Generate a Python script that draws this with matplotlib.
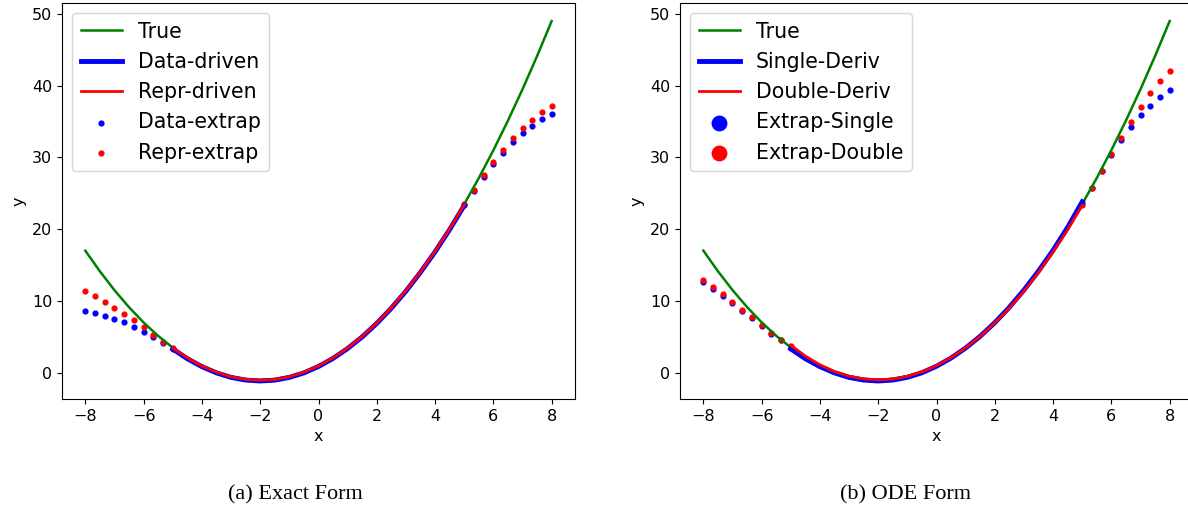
import matplotlib
matplotlib.use("Agg")
import matplotlib.pyplot as plt

# curva verdadeira (passo 0.5)
x_true = [-8, -7.5, -7, -6.5, -6, -5.5, -5, -4.5, -4, -3.5, -3, -2.5, -2, -1.5, -1, -0.5,
          0, 0.5, 1, 1.5, 2, 2.5, 3, 3.5, 4, 4.5, 5, 5.5, 6, 6.5, 7, 7.5, 8]
y_true = [17, 14.125, 11.5, 9.125, 7, 5.125, 3.5, 2.125, 1, 0.125, -0.5, -0.875, -1, -0.875, -0.5, 0.125,
          1, 2.125, 3.5, 5.125, 7, 9.125, 11.5, 14.125, 17, 20.125, 23.5, 27.125, 31, 35.125, 39.5, 44.125, 49]

# ajustes no intervalo de treino [-5, 5]
x_fit = [-5, -4.5, -4, -3.5, -3, -2.5, -2, -1.5, -1, -0.5, 0, 0.5, 1, 1.5, 2, 2.5, 3, 3.5, 4, 4.5, 5]
y_data_driven = [3.3, 1.95, 0.85, -0.02, -0.65, -1.02, -1.15, -1.03, -0.65, -0.02, 0.87,
                 2.0, 3.38, 5.0, 6.88, 9.0, 11.37, 14.0, 16.85, 19.95, 23.3]
y_repr_driven = [3.45, 2.07, 0.95, 0.08, -0.55, -0.92, -1.05, -0.93, -0.55, 0.08, 0.96,
                 2.08, 3.46, 5.08, 6.95, 9.08, 11.45, 14.07, 16.93, 20.05, 23.4]
y_single_deriv = [3.3, 1.93, 0.82, -0.05, -0.68, -1.05, -1.18, -1.05, -0.67, -0.03, 0.88,
                  2.02, 3.42, 5.06, 6.95, 9.1, 11.5, 14.15, 17.05, 20.25, 23.8]
y_double_deriv = [3.8, 2.3, 1.08, 0.15, -0.5, -0.88, -1.02, -0.9, -0.52, 0.1, 0.98,
                  2.08, 3.45, 5.05, 6.9, 9.0, 11.35, 13.95, 16.8, 19.9, 23.3]

# pontos de extrapolacao
x_ext_left = [-8, -7.67, -7.33, -7, -6.67, -6.33, -6, -5.67, -5.33, -5]
x_ext_right = [5, 5.33, 5.67, 6, 6.33, 6.67, 7, 7.33, 7.67, 8]

data_ext_left = [8.56, 8.33, 7.96, 7.54, 7.08, 6.42, 5.73, 4.93, 4.15, 3.35]
repr_ext_left = [11.35, 10.66, 9.92, 9.08, 8.24, 7.30, 6.38, 5.31, 4.3, 3.45]
data_ext_right = [23.4, 25.32, 27.28, 29.05, 30.63, 32.08, 33.34, 34.40, 35.30, 35.99]
repr_ext_right = [23.5, 25.4, 27.51, 29.37, 31.10, 32.64, 34.04, 35.24, 36.27, 37.19]

single_ext_left = [12.61, 11.63, 10.66, 9.68, 8.62, 7.54, 6.52, 5.40, 4.47, 3.4]
double_ext_left = [12.89, 11.87, 10.89, 9.82, 8.76, 7.68, 6.61, 5.54, 4.57, 3.7]
single_ext_right = [23.7, 25.66, 28.03, 30.35, 32.36, 34.22, 35.85, 37.19, 38.37, 39.34]
double_ext_right = [23.4, 25.74, 28.07, 30.45, 32.72, 34.96, 37.05, 38.92, 40.60, 42.08]

plt.rcParams['font.size'] = 11.5

fig = plt.figure(figsize=(11.88, 5.14), dpi=100)
ax1 = fig.add_axes([0.0522, 0.2237, 0.4318, 0.7704])
ax2 = fig.add_axes([0.5724, 0.2237, 0.4318, 0.7704])


def desenha(ax, y_a, y_b, ext_a, ext_b, nomes, markerscale):
    # pontos primeiro, para as linhas ficarem por cima
    ax.scatter(x_ext_left + x_ext_right, ext_a[0] + ext_a[1], s=12, color='blue',
               label=nomes[2], zorder=1)
    ax.scatter(x_ext_left + x_ext_right, ext_b[0] + ext_b[1], s=12, color='red',
               label=nomes[3], zorder=1)
    ax.plot(x_true, y_true, color='green', lw=1.8, label='True')
    ax.plot(x_fit, y_a, color='blue', lw=3.5, label=nomes[0])
    ax.plot(x_fit, y_b, color='red', lw=2, label=nomes[1])
    ax.set_xlabel('x')
    ax.set_ylabel('y')
    ax.set_xticks([-8, -6, -4, -2, 0, 2, 4, 6, 8])
    ax.set_yticks([0, 10, 20, 30, 40, 50])
    h, l = ax.get_legend_handles_labels()
    ordem = [2, 3, 4, 0, 1]
    ax.legend([h[i] for i in ordem], [l[i] for i in ordem], loc='upper left',
              fontsize=14.8, markerscale=markerscale)


desenha(ax1, y_data_driven, y_repr_driven,
        (data_ext_left, data_ext_right), (repr_ext_left, repr_ext_right),
        ['Data-driven', 'Repr-driven', 'Data-extrap', 'Repr-extrap'], 1)
desenha(ax2, y_single_deriv, y_double_deriv,
        (single_ext_left, single_ext_right), (double_ext_left, double_ext_right),
        ['Single-Deriv', 'Double-Deriv', 'Extrap-Single', 'Extrap-Double'], 3)

fig.text(295 / 1188, 1 - 495 / 514, '(a) Exact Form', ha='center', va='center',
         fontsize=16, family='Liberation Serif')
fig.text(906 / 1188, 1 - 495 / 514, '(b) ODE Form', ha='center', va='center',
         fontsize=16, family='Liberation Serif')

plt.savefig('out.png', dpi=100)
plt.close()
